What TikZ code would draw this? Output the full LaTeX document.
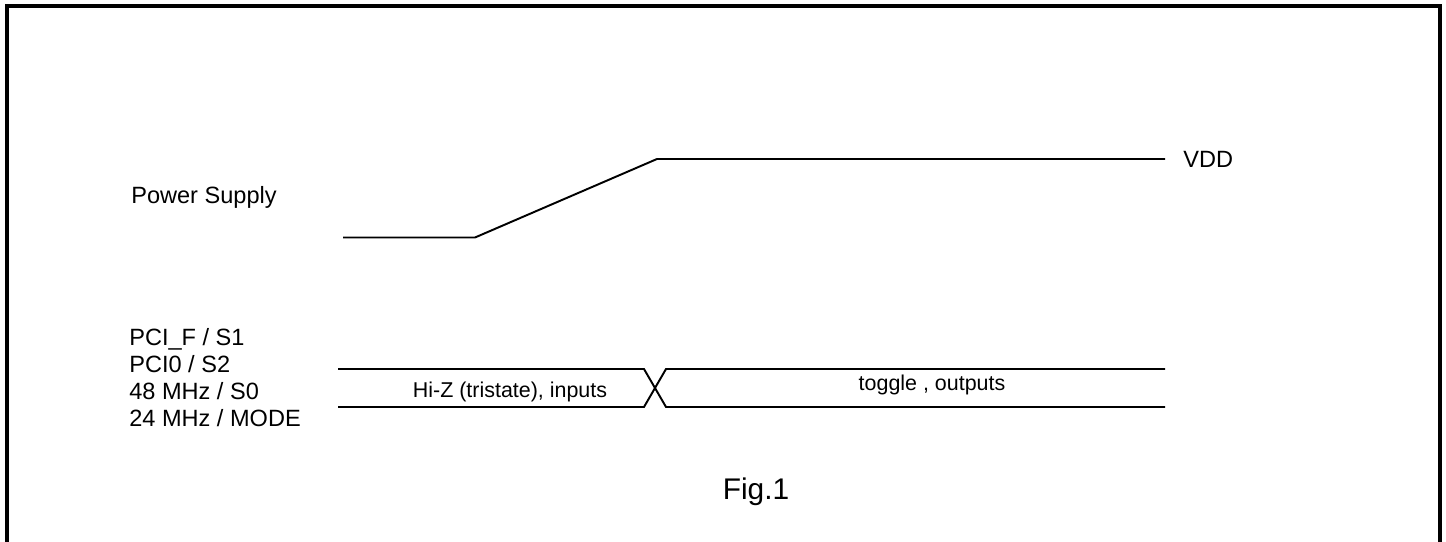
\documentclass[tikz,border=0pt]{standalone}
\usepackage{fontspec}
\setmainfont{Liberation Sans}
\usetikzlibrary{calc}
\usetikzlibrary{positioning}

\begin{document}
\begin{tikzpicture}[
        WaveCfg/.style={
            line width=1.1pt,
            line join=miter
        },
        LabelCfg/.style={
            anchor=west,
            inner sep=0pt,
            font=\fontsize{13.4}{15.4}\selectfont
        },
        StateCfg/.style={
            inner sep=0pt,
            font=\fontsize{12.2}{14}\selectfont
        }
    ]
    \useasboundingbox (0,0) rectangle (28.92,10.82);
    
    %frame
    \draw[line width=1.8pt] (0.14,-0.5)--(0.14,10.70)--(28.80,10.70)--(28.80,-0.5);
    
    %power supply
    \node[LabelCfg] (PS) at (2.62,6.88) {Power Supply};
    \draw[WaveCfg] (6.86,6.07)coordinate (A)--++(0:2.64)coordinate (B)--(13.14,7.64)coordinate (C)--++(0:10.16)coordinate (D);
    \node[LabelCfg,right=0.36 of D] (VDD) {VDD};
    
    %signals
    \node[LabelCfg,align=left] (PCI) at (2.58,3.27) {PCI\_F / S1\\PCI0 / S2\\48 MHz / S0\\24 MHz / MODE};
    \draw[WaveCfg] (6.76,3.44)coordinate (T0)--(12.88,3.44)coordinate (T1)--(13.32,2.68)coordinate (B2)--(23.30,2.68)coordinate (B3);
    \draw[WaveCfg] (6.76,2.68)coordinate (B0)--(12.88,2.68)coordinate (B1)--(13.32,3.44)coordinate (T2)--(23.30,3.44)coordinate (T3);
    \node[StateCfg] (HIZ) at (10.20,2.98) {Hi-Z (tristate), inputs};
    \node[StateCfg] (TOG) at (18.64,3.12) {toggle , outputs};
    
    %caption
    \node[inner sep=0pt,font=\fontsize{17}{19}\selectfont] (FIG) at (15.12,0.98) {Fig.1};
    
\end{tikzpicture}
\end{document}
